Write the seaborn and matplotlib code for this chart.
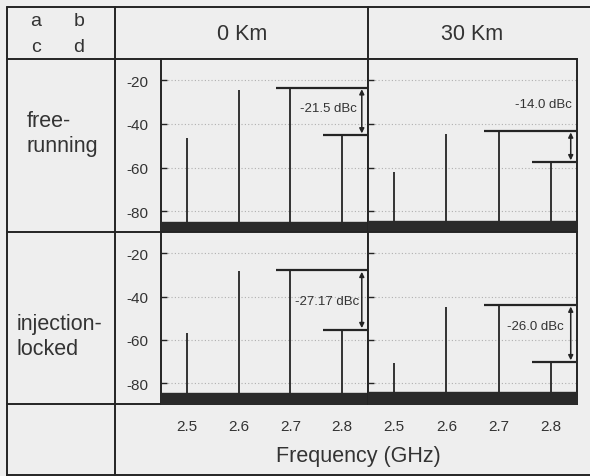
import numpy as np
import pandas as pd
import seaborn as sns
import matplotlib
matplotlib.use("Agg")
import matplotlib.pyplot as plt

# Valores (espectro RF, dBm)
freqs = [2.5, 2.6, 2.7, 2.8]  # GHz
peaks_0km_free = [-46.5, -24.3, -23.5, -45.0]
peaks_30km_free = [-61.9, -44.7, -43.3, -57.3]
peaks_0km_lock = [-57.0, -28.3, -28.0, -55.2]
peaks_30km_lock = [-70.8, -45.0, -44.0, -70.0]
noise_floor = [-85.0, -84.3, -84.5, -84.0]
dbc_labels = ["-21.5 dBc", "-14.0 dBc", "-27.17 dBc", "-26.0 dBc"]
col_labels = ["0 Km", "30 Km"]
row_labels = ["free-\nrunning", "injection-\nlocked"]
y_ticks = [-20, -40, -60, -80]
x_ticks = [2.5, 2.6, 2.7, 2.8]

# Tabla larga con todos los paneles
panels = ["a", "b", "c", "d"]
all_peaks = [peaks_0km_free, peaks_30km_free, peaks_0km_lock, peaks_30km_lock]
df = pd.DataFrame({
    "panel": np.repeat(panels, len(freqs)),
    "freq": freqs * len(panels),
    "level": np.concatenate(all_peaks),
})

sns.set_theme(style="white")
plt.rcParams['font.family'] = ['Liberation Sans', 'DejaVu Sans']
plt.rcParams['axes.unicode_minus'] = False

W, H = 590, 477
BG = "#eeeeee"
INK = "#242424"
fig = plt.figure(figsize=(W / 100, H / 100), dpi=100, facecolor=BG)

# Capa de fondo en pixeles para la tabla
bg = fig.add_axes([0, 0, 1, 1])
bg.set_xlim(0, W)
bg.set_ylim(H, 0)
bg.axis("off")
bg.set_facecolor(BG)

lw = 1.4
bg.plot([7, 590], [8, 8], color=INK, lw=lw)
bg.plot([7, 7], [8, 477], color=INK, lw=lw)
bg.plot([115, 115], [8, 477], color=INK, lw=lw)
bg.plot([368, 368], [8, 60], color=INK, lw=lw)
bg.plot([7, 577], [60, 60], color=INK, lw=lw)
bg.plot([7, 161], [233, 233], color=INK, lw=lw)
bg.plot([7, 161], [405, 405], color=INK, lw=lw)
bg.plot([7, 590], [476, 476], color=INK, lw=lw)

txt = "#333333"
bg.text(36, 22, "a", fontsize=14, color=txt, ha="center", va="center")
bg.text(79, 22, "b", fontsize=14, color=txt, ha="center", va="center")
bg.text(36, 47, "c", fontsize=14, color=txt, ha="center", va="center")
bg.text(79, 47, "d", fontsize=14, color=txt, ha="center", va="center")
bg.text(242, 34, col_labels[0], fontsize=15.5, color=txt, ha="center", va="center")
bg.text(472, 34, col_labels[1], fontsize=15.5, color=txt, ha="center", va="center")
bg.text(27, 134, row_labels[0], fontsize=15.5, color=txt, ha="left", va="center",
        linespacing=1.2)
bg.text(17, 337, row_labels[1], fontsize=15.5, color=txt, ha="left", va="center",
        linespacing=1.2)
bg.text(358, 457, "Frequency (GHz)", fontsize=15.5, color=txt, ha="center", va="center")


def px_rect(x0, y0, x1, y1):
    return [x0 / W, 1 - y1 / H, (x1 - x0) / W, (y1 - y0) / H]


rects = [(161, 60, 368, 233), (368, 60, 577, 233),
         (161, 233, 368, 405), (368, 233, 577, 405)]
text_pos = [(2.773, -32.8), (2.786, -31.0), (2.771, -42.2), (2.771, -53.7)]
xlim = (2.45, 2.85)
ylim = (-89.5, -10.3)

for i, p in enumerate(panels):
    ax = fig.add_axes(px_rect(*rects[i]))
    ax.set_facecolor(BG)
    sub = df[df["panel"] == p]
    ax.set_xlim(*xlim)
    ax.set_ylim(*ylim)

    # piso de ruido
    ax.fill_between(xlim, ylim[0], noise_floor[i], color="#2a2a2a", zorder=3)
    # lineas espectrales
    ax.vlines(sub["freq"], ylim[0], sub["level"], color=INK, lw=1.3, zorder=2)

    # anotacion dBc
    lv = sub["level"].tolist()
    ax.hlines(lv[2], 2.672, 2.848, color=INK, lw=1.6, zorder=4)
    ax.hlines(lv[3], 2.764, 2.848, color=INK, lw=1.6, zorder=4)
    ax.annotate("", xy=(2.838, lv[3]), xytext=(2.838, lv[2]),
                arrowprops=dict(arrowstyle="<|-|>", color=INK, lw=1.1,
                                mutation_scale=7, shrinkA=1, shrinkB=1))
    ax.text(text_pos[i][0], text_pos[i][1], dbc_labels[i], fontsize=9.5,
            color=txt, ha="center", va="center", zorder=5)

    ax.set_yticks(y_ticks)
    ax.set_xticks(x_ticks)
    ax.grid(axis="y", linestyle=(0, (1, 2)), color="#b0b0b0", lw=0.8)
    ax.grid(axis="x", visible=False)
    ax.tick_params(axis="y", direction="in", length=4, width=1, color=INK,
                   left=True, pad=9, labelsize=11, labelcolor=txt)
    ax.tick_params(axis="x", length=0, pad=11, labelsize=11, labelcolor=txt)
    if i % 2 == 1:
        ax.tick_params(axis="y", labelleft=False)
    if i < 2:
        ax.tick_params(axis="x", labelbottom=False)
    ax.set_xticklabels([f"{t:.1f}" for t in x_ticks])
    for s in ax.spines.values():
        s.set_color(INK)
        s.set_linewidth(lw)
        s.set_visible(True)

fig.savefig("out.png", dpi=100, facecolor=BG)
